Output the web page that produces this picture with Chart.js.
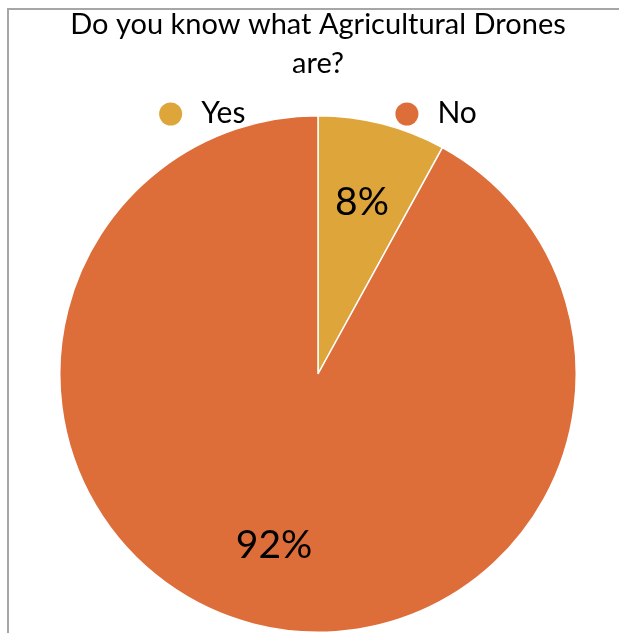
<!DOCTYPE html>
<html>
<head>
<meta charset="utf-8">
<script src="https://cdn.jsdelivr.net/npm/chart.js@4"></script>
<style>
  html, body { margin: 0; padding: 0; background: #fff; overflow: hidden; }
  #frame { position: absolute; left: 7px; top: 8px; width: 700px; height: 700px;
           border-top: 2px solid #a6a6a6; border-left: 2px solid #a6a6a6; }
  #wrap { position: absolute; left: 0; top: 0; width: 619px; height: 633px; }
</style>
</head>
<body>
<div id="frame"></div>
<div id="wrap"><canvas id="pie__chart" width="619" height="633"></canvas></div>
<script>
// pie chart
const labels = ['Yes', 'No'];
const values = [8, 92];
const colors = ['#dea53b', '#dd6d39'];
const titleLines = ['Do you know what Agricultural Drones', 'are?'];

const FONT = 'Lato, "Open Sans", sans-serif';

// percentage labels inside the slices
const sliceLabels = {
  id: 'sliceLabels',
  afterDatasetsDraw(chart) {
    const ctx = chart.ctx;
    const meta = chart.getDatasetMeta(0);
    const total = values.reduce((a, b) => a + b, 0);
    ctx.save();
    ctx.font = '39px ' + FONT;
    ctx.fillStyle = '#000';
    ctx.textAlign = 'center';
    ctx.textBaseline = 'middle';
    meta.data.forEach((arc, i) => {
      const mid = (arc.startAngle + arc.endAngle) / 2;
      const r = arc.outerRadius * 0.685;
      ctx.fillText(Math.round(values[i] / total * 100) + '%',
        arc.x + Math.cos(mid) * r, arc.y + Math.sin(mid) * r);
    });
    ctx.restore();
  }
};

// legend row: circle + label, centered over the pie, drawn under the title
const dotLegend = {
  id: 'dotLegend',
  afterDraw(chart) {
    const ctx = chart.ctx;
    const ds = chart.data.datasets[0];
    const dot = 23, gap = 19, between = 150;
    const baseY = 122.7, dotY = 114;
    ctx.save();
    ctx.font = '30px ' + FONT;
    ctx.textBaseline = 'alphabetic';
    const widths = chart.data.labels.map(l => dot + gap + ctx.measureText(l).width);
    const total = widths.reduce((a, b) => a + b, 0) + between * (widths.length - 1);
    let x = (chart.chartArea.left + chart.chartArea.right) / 2 - total / 2;
    chart.data.labels.forEach((l, i) => {
      ctx.fillStyle = ds.backgroundColor[i];
      ctx.beginPath();
      ctx.arc(x + dot / 2, dotY, dot / 2, 0, Math.PI * 2);
      ctx.fill();
      ctx.fillStyle = '#000';
      ctx.fillText(l, x + dot + gap, baseY);
      x += widths[i] + between;
    });
    ctx.restore();
  }
};

const data1 = {
  labels: labels,
  datasets: [{
    data: values,
    backgroundColor: colors,
    borderColor: '#ffffff',
    borderWidth: 1.5
  }]
};

const config1 = {
  type: 'pie',
  data: data1,
  options: {
    responsive: false,
    animation: false,
    layout: { padding: { left: 17, right: 0, top: 0, bottom: -1.4 } },
    plugins: {
      title: {
        display: true,
        text: titleLines,
        color: '#000',
        font: { family: FONT, size: 29, weight: 'normal', lineHeight: 39 / 29 },
        padding: { top: 5.2, bottom: 31.8 }
      },
      legend: { display: false },
      tooltip: { enabled: false }
    }
  },
  plugins: [sliceLabels, dotLegend]
};

const myChart1 = new Chart(document.getElementById('pie__chart'), config1);
</script>
</body>
</html>
